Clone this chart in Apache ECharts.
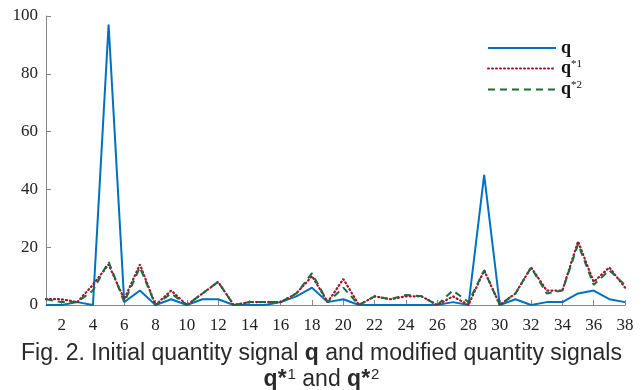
<!DOCTYPE html>
<html>
<head>
<meta charset="UTF-8">
<title></title>
<script src="https://cdn.jsdelivr.net/npm/echarts@6/dist/echarts.min.js"></script>
<style type="text/css">
  *{margin:0;padding:0;}
  #main{width:643px;height:390px;background:#fff;}
</style>
</head>
<body>
<div id="main"></div>
<script type="text/javascript">
// sample index 1..38
var xCats = [];
for (var n = 1; n <= 38; n++) xCats.push(String(n));
var yTicks = [0, 20, 40, 60, 80, 100];

// initial quantity signal q
var qData  = [0,0,1,0,97,1,5,0,2,0, 2,2,0,0,0,1,3,6,1,2, 0,0,0,0,0,0,1,0,45,0, 2,0,1,1,4,5,2,1];
// modified signals
var q1Data = [2,2,1,7,14,2,14,0,5,0, 4,8,0,1,1,1,4,10,1,9, 0,3,2,3,3,0,3,0,12,0, 4,13,5,5,22,8,13,6];
var q2Data = [2,1,1,5,15,1,13,0,4,0, 4,8,0,1,1,1,4,11,1,6, 0,3,2,3.5,3,0,5,1,12,0, 4,13,4,5,21,7,12,7];

var serif = 'Liberation Serif';
var myChart = echarts.init(document.getElementById('main'));

var legendNames = {'q': '{b|q}', 'q*1': '{b|q}{s|*1}', 'q*2': '{b|q}{s|*2}'};

var option = {
  animation: false,
  title: {
    left: 'center',
    top: 336,
    text: '{n|Fig. 2. Initial quantity signal }{b|q}{n| and modified quantity signals}\n{b|q*}{p|1}{n| and }{b|q*}{p|2}',
    textStyle: {
      fontWeight: 'normal',
      rich: {
        n: {fontFamily: 'Liberation Sans', fontSize: 23, fontWeight: 'normal', color: '#2a2a2a', lineHeight: 26},
        b: {fontFamily: 'Liberation Sans', fontSize: 23, fontWeight: 'bold', color: '#2a2a2a', lineHeight: 26},
        p: {fontFamily: 'Liberation Sans', fontSize: 15, fontWeight: 'normal', color: '#2a2a2a', lineHeight: 15, padding: [0, 0, 10, 1]}
      }
    }
  },
  legend: {
    left: 482,
    top: 34,
    orient: 'vertical',
    itemWidth: 68,
    itemHeight: 14,
    itemGap: 2,
    itemStyle: {opacity: 0},
    formatter: function (name) { return legendNames[name]; },
    textStyle: {
      rich: {
        b: {fontFamily: serif, fontSize: 18, fontWeight: 'bold', color: '#111', lineHeight: 17},
        s: {fontFamily: serif, fontSize: 11, color: '#111', padding: [0, 0, 8, 0], lineHeight: 11}
      }
    }
  },
  grid: {left: 46, right: 18, top: 16, bottom: 85},
  xAxis: {
    type: 'category',
    data: xCats,
    boundaryGap: false,
    axisLine: {show: true, lineStyle: {color: '#888', width: 1}},
    axisTick: {show: true, inside: true, length: 5, interval: function (i) { return i % 2 === 1; }, lineStyle: {color: '#888'}},
    axisLabel: {interval: function (i) { return i % 2 === 1; }, fontFamily: serif, fontSize: 17, color: '#222', margin: 12},
    splitLine: {show: false}
  },
  yAxis: {
    type: 'value',
    min: yTicks[0],
    max: yTicks[yTicks.length - 1],
    interval: 20,
    axisLine: {show: true, lineStyle: {color: '#888', width: 1}},
    axisTick: {show: true, inside: true, length: 5, lineStyle: {color: '#888'}},
    axisLabel: {fontFamily: serif, fontSize: 17, color: '#222', margin: 8},
    splitLine: {show: false}
  },
  series: [
    {name: 'q', type: 'line', data: qData, symbol: 'none',
     lineStyle: {color: '#0072BD', width: 2}, itemStyle: {color: '#0072BD'}},
    {name: 'q*1', type: 'line', data: q1Data, symbol: 'none',
     lineStyle: {color: '#A2142F', width: 2.2, type: [1, 3], cap: 'round'}, itemStyle: {color: '#A2142F'}},
    {name: 'q*2', type: 'line', data: q2Data, symbol: 'none',
     lineStyle: {color: '#1E6B3A', width: 2, type: [7, 5]}, itemStyle: {color: '#1E6B3A'}}
  ]
};
myChart.setOption(option);
</script>
</body>
</html>
